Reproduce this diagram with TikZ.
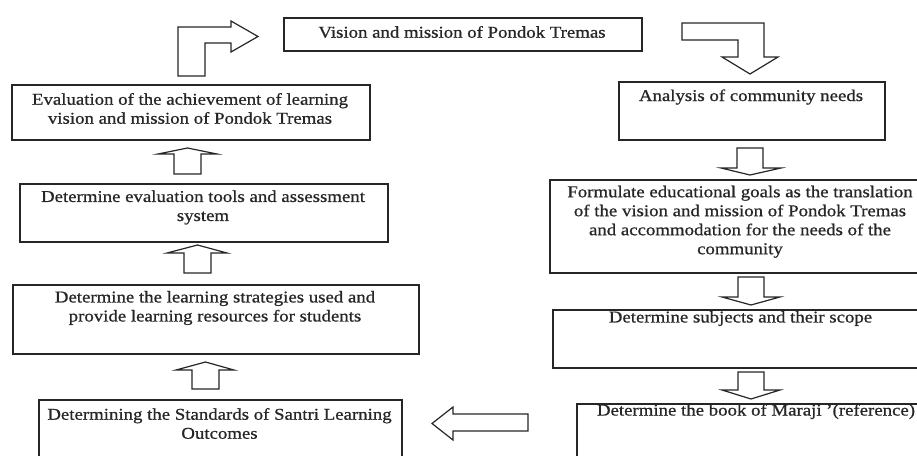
\documentclass[tikz,border=0pt]{standalone}
\usepackage{fontspec}
\setmainfont{Liberation Serif}[FakeStretch=1.14,FakeBold=0.8]
\begin{document}
\begin{tikzpicture}[x=1pt,y=-1pt,
  box/.style={draw=black!85, line width=1.5pt, anchor=north west, inner sep=0pt},
  lbl/.style={font=\fontsize{16.5}{19}\selectfont, align=center, text=black!85, inner sep=0pt},
  barrow/.style={draw=black!85, line width=1.2pt, fill=white, line join=miter}]
\useasboundingbox (0,0) rectangle (917,455);
\clip (0,0) rectangle (917,455);

% boxes
\node[box, minimum width=358pt, minimum height=33pt] (vision) at (283,17) {};
\node[box, minimum width=358pt, minimum height=55pt] (evalach) at (11,84) {};
\node[box, minimum width=368pt, minimum height=58pt] (tools) at (19,183) {};
\node[box, minimum width=406pt, minimum height=69pt] (strat) at (12,284) {};
\node[box, minimum width=363pt, minimum height=71pt] (stand) at (38,399) {};
\node[box, minimum width=266pt, minimum height=58pt] (analysis) at (618,81) {};
\node[box, minimum width=382pt, minimum height=93pt] (goals) at (549,179) {};
\node[box, minimum width=377pt, minimum height=58pt] (subjects) at (552,309) {};
\node[box, minimum width=360pt, minimum height=71pt] (maraji) at (576,403) {};

% texts
\node[lbl] (tvision) at (462,32) {Vision and mission of Pondok Tremas};
\node[lbl] (tevalach) at (190,108.5) {Evaluation of the achievement of learning\\vision and mission of Pondok Tremas};
\node[lbl] (ttools) at (203,207.5) {Determine evaluation tools and assessment\\system};
\node[lbl] (tstrat) at (215,308) {Determine the learning strategies used and\\provide learning resources for students};
\node[lbl] (tstand) at (219.5,423.5) {Determining the Standards of Santri Learning\\Outcomes};
\node[lbl] (tanalysis) at (751,97) {Analysis of community needs};
\node[lbl] (tgoals) at (740,221.75) {Formulate educational goals as the translation\\of the vision and mission of Pondok Tremas\\and accommodation for the needs of the\\community};
\node[lbl] (tsubjects) at (740.5,318.5) {Determine subjects and their scope};
\node[lbl] (tmaraji) at (756,411.5) {Determine the book of Maraji '(reference)};

% block arrows
\draw[barrow] (178,76) -- (178,27) -- (231,27) -- (231,21) -- (258,36.5) -- (231,52) -- (231,43) -- (205,43) -- (205,76) -- cycle;
\draw[barrow] (682,23) -- (764,23) -- (764,57) -- (778,57) -- (750,74) -- (722,57) -- (738,57) -- (738,40) -- (682,40) -- cycle;
% down arrows right column
\draw[barrow] (737,148) -- (763,148) -- (763,168) -- (781,168) -- (750,175) -- (721,168) -- (737,168) -- cycle;
\draw[barrow] (738,277) -- (764,277) -- (764,297) -- (780,297) -- (751,305) -- (722,297) -- (738,297) -- cycle;
\draw[barrow] (738,372) -- (764,372) -- (764,390) -- (780,390) -- (751,399) -- (722,390) -- (738,390) -- cycle;
% left arrow
\draw[barrow] (528,414) -- (528,431) -- (453,431) -- (453,440) -- (432,423.5) -- (453,407) -- (453,414) -- cycle;
% up arrows left column
\draw[barrow] (174,174) -- (174,154) -- (158,154) -- (187.5,148) -- (217,154) -- (201,154) -- (201,174) -- cycle;
\draw[barrow] (184,273) -- (184,253) -- (167,253) -- (197.5,245) -- (227,253) -- (211,253) -- (211,273) -- cycle;
\draw[barrow] (192,389) -- (192,370) -- (176,370) -- (205.5,362) -- (234,370) -- (219,370) -- (219,389) -- cycle;
\end{tikzpicture}
\end{document}
